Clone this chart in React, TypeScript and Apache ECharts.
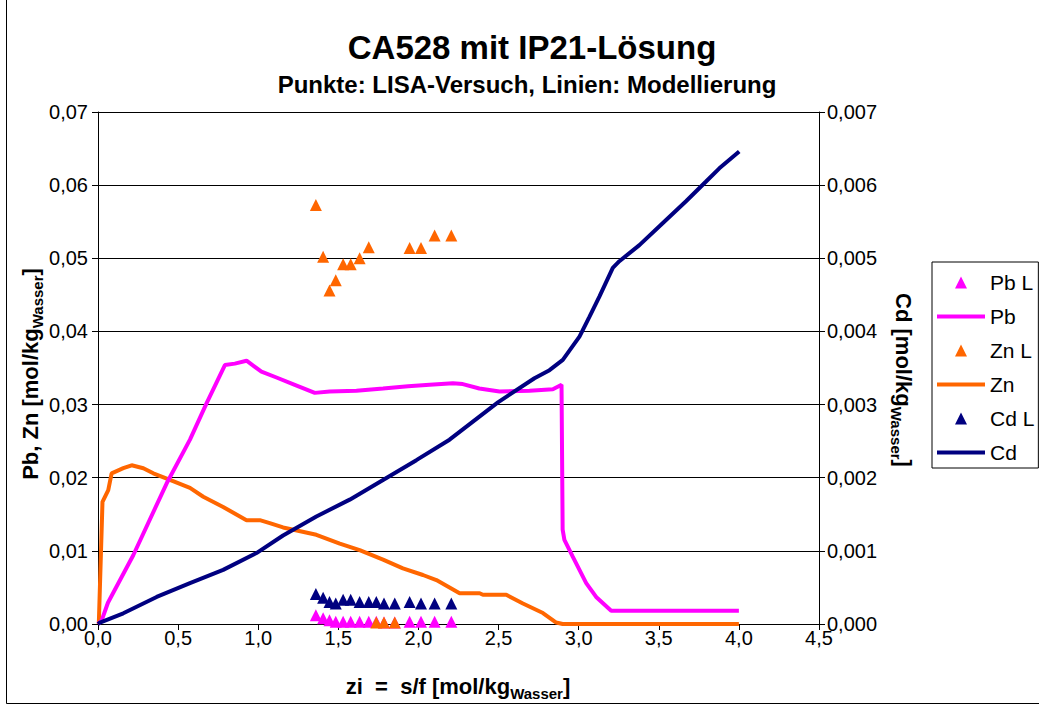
import { useEffect, useRef } from "react";
import * as echarts from "echarts";

const FONT = "'Liberation Sans', Arial, sans-serif";

// LISA experiment points (x shared)
const xLisa = [1.36, 1.405, 1.445, 1.484, 1.53, 1.577, 1.633, 1.69, 1.737, 1.785, 1.852, 1.945, 2.016, 2.101, 2.205];
const pbLisa = [0.0012, 0.0008, 0.0005, 0.0003, 0.0003, 0.0003, 0.0003, 0.0003, 0.0003, 0.0002, 0.0002, 0.0003, 0.0003, 0.0003, 0.0003];
const znLisa = [0.0573, 0.0502, 0.0456, 0.047, 0.0492, 0.0492, 0.05, 0.0515, 0.0002, 0.0002, 0.0002, 0.0514, 0.0514, 0.0531, 0.0531];
const cdLisa = [0.00041, 0.00036, 0.0003, 0.00028, 0.00033, 0.00033, 0.0003, 0.0003, 0.0003, 0.00028, 0.00028, 0.0003, 0.00028, 0.00028, 0.00028];

// Model lines [x, y]
const pbModel: [number, number][] = [
  [0, 0], [0.023, 0.0005], [0.062, 0.0029], [0.22, 0.0094], [0.428, 0.0192], [0.574, 0.0252],
  [0.678, 0.0302], [0.792, 0.0354], [0.854, 0.0356], [0.927, 0.036], [1.02, 0.0345], [1.114, 0.0337],
  [1.228, 0.0327], [1.353, 0.0316], [1.446, 0.0318], [1.613, 0.0319], [1.779, 0.0322], [1.935, 0.0325],
  [2.07, 0.0327], [2.215, 0.0329], [2.277, 0.0328], [2.38, 0.0322], [2.506, 0.0318], [2.693, 0.0319],
  [2.839, 0.0321], [2.893, 0.0327], [2.9, 0.0129], [2.911, 0.0115], [2.963, 0.0092], [3.047, 0.0056],
  [3.109, 0.0037], [3.203, 0.0018], [4.0, 0.0018],
];
const znModel: [number, number][] = [
  [0.005, 0], [0.028, 0.0167], [0.064, 0.0183], [0.085, 0.0206], [0.158, 0.0213], [0.21, 0.0217],
  [0.283, 0.0213], [0.345, 0.0206], [0.449, 0.0197], [0.574, 0.0186], [0.657, 0.0174], [0.781, 0.016],
  [0.927, 0.0142], [1.01, 0.0142], [1.072, 0.0138], [1.155, 0.0132], [1.363, 0.0122], [1.509, 0.011],
  [1.633, 0.0101], [1.779, 0.0088], [1.903, 0.0076], [2.028, 0.0067], [2.112, 0.006], [2.257, 0.0042],
  [2.382, 0.0042], [2.402, 0.004], [2.548, 0.004], [2.652, 0.0028], [2.777, 0.0015], [2.86, 0.0002],
  [2.9, 0], [4.0, 0],
];
const cdModel: [number, number][] = [
  [0, 0], [0.012, 0.00002], [0.158, 0.000146], [0.366, 0.00037], [0.574, 0.00056], [0.781, 0.00074],
  [0.989, 0.00097], [1.155, 0.00121], [1.363, 0.00147], [1.571, 0.0017], [1.779, 0.00197], [1.987, 0.00224],
  [2.194, 0.00252], [2.496, 0.00303], [2.724, 0.00336], [2.818, 0.00347], [2.901, 0.00361], [3.005, 0.00393],
  [3.067, 0.0042], [3.13, 0.00448], [3.213, 0.00487], [3.254, 0.00496], [3.379, 0.00518], [3.524, 0.00548],
  [3.67, 0.00578], [3.795, 0.00605], [3.878, 0.00623], [4.002, 0.00646],
];

const MAGENTA = "#FF00FF";
const ORANGE = "#FF6600";
const NAVY = "#000080";

const titleText = "CA528 mit IP21-Lösung";
const subtitleText = "Punkte: LISA-Versuch, Linien: Modellierung";

const TRI_ICON = "path://M5,0L10,10L0,10Z";
const LINE_ICON = "path://M0,0L48,0L48,4L0,4Z";

const richSub = {
  m: { fontSize: 22, fontWeight: "bold", fontFamily: FONT, fill: "#000", color: "#000" },
  s: { fontSize: 15, fontWeight: "bold", fontFamily: FONT, fill: "#000", color: "#000", padding: [14, 0, 0, 0], verticalAlign: "bottom" },
};

export default function App() {
  const ref = useRef<HTMLDivElement>(null);
  useEffect(() => {
    if (!ref.current) return;
    const chart = echarts.init(ref.current, null, { renderer: "svg" });
    const tickStyle = { fontSize: 20, fontFamily: FONT, color: "#000" };
    chart.setOption({
      animation: false,
      backgroundColor: "#fff",
      grid: { left: 98, right: 220, top: 112, bottom: 81, containLabel: false },
      legend: {
        orient: "vertical",
        left: 932,
        top: 262,
        padding: [10, 4, 5, 5],
        itemGap: 13,
        itemWidth: 48,
        itemHeight: 12,
        symbolKeepAspect: true,
        borderColor: "#000",
        borderWidth: 1,
        backgroundColor: "#fff",
        itemStyle: { opacity: 1 },
        textStyle: { fontSize: 21, fontFamily: FONT, color: "#000" },
        data: [
          { name: "Pb L", icon: TRI_ICON },
          { name: "Pb", icon: LINE_ICON },
          { name: "Zn L", icon: TRI_ICON },
          { name: "Zn", icon: LINE_ICON },
          { name: "Cd L", icon: TRI_ICON },
          { name: "Cd", icon: LINE_ICON },
        ],
      },
      xAxis: {
        type: "value",
        min: 0,
        max: 4.5,
        interval: 0.5,
        axisLine: { show: true, lineStyle: { color: "#000", width: 1 } },
        axisTick: { show: true, inside: false, length: 6, lineStyle: { color: "#000" } },
        axisLabel: { ...tickStyle, margin: 4, formatter: (v: number) => v.toFixed(1).replace(".", ",") },
        splitLine: { show: false },
      },
      yAxis: [
        {
          type: "value",
          min: 0,
          max: 0.07,
          interval: 0.01,
          axisLine: { show: true, lineStyle: { color: "#000", width: 1 } },
          axisTick: { show: true, inside: false, length: 6, lineStyle: { color: "#000" } },
          axisLabel: { ...tickStyle, margin: 10, formatter: (v: number) => v.toFixed(2).replace(".", ",") },
          splitLine: { show: true, lineStyle: { color: "#000", width: 1 } },
        },
        {
          type: "value",
          position: "right",
          min: 0,
          max: 0.007,
          interval: 0.001,
          axisLine: { show: true, lineStyle: { color: "#000", width: 1 } },
          axisTick: { show: true, inside: false, length: 6, lineStyle: { color: "#000" } },
          axisLabel: { ...tickStyle, margin: 8, formatter: (v: number) => v.toFixed(3).replace(".", ",") },
          splitLine: { show: false },
        },
      ],
      series: [
        {
          name: "Pb L", type: "scatter", yAxisIndex: 0, symbol: "triangle", symbolSize: 12, symbolKeepAspect: true, z: 5,
          itemStyle: { color: MAGENTA, opacity: 1 },
          data: xLisa.map((x, i) => [x, pbLisa[i]]),
        },
        {
          name: "Pb", type: "line", yAxisIndex: 0, symbol: "none", showSymbol: false, z: 3,
          itemStyle: { color: MAGENTA }, lineStyle: { color: MAGENTA, width: 4 },
          data: pbModel,
        },
        {
          name: "Zn L", type: "scatter", yAxisIndex: 0, symbol: "triangle", symbolSize: 12, symbolKeepAspect: true, z: 5,
          itemStyle: { color: ORANGE, opacity: 1 },
          data: xLisa.map((x, i) => [x, znLisa[i]]),
        },
        {
          name: "Zn", type: "line", yAxisIndex: 0, symbol: "none", showSymbol: false, z: 2,
          itemStyle: { color: ORANGE }, lineStyle: { color: ORANGE, width: 4 },
          data: znModel,
        },
        {
          name: "Cd L", type: "scatter", yAxisIndex: 1, symbol: "triangle", symbolSize: 12, symbolKeepAspect: true, z: 5,
          itemStyle: { color: NAVY, opacity: 1 },
          data: xLisa.map((x, i) => [x, cdLisa[i]]),
        },
        {
          name: "Cd", type: "line", yAxisIndex: 1, symbol: "none", showSymbol: false, z: 4,
          itemStyle: { color: NAVY }, lineStyle: { color: NAVY, width: 4 },
          data: cdModel,
        },
      ],
      graphic: [
        {
          type: "rect", z: -1, silent: true,
          shape: { x: 6.5, y: -10, width: 1050, height: 713.5 },
          style: { fill: "none", stroke: "#000", lineWidth: 1 },
        },
        {
          type: "text", x: 532, y: 47,
          style: { text: titleText, font: `bold 33px ${FONT}`, fill: "#000", align: "center", verticalAlign: "middle" },
        },
        {
          type: "text", x: 527, y: 84,
          style: { text: subtitleText, font: `bold 24px ${FONT}`, fill: "#000", align: "center", verticalAlign: "middle" },
        },
        {
          type: "text", x: 30, y: 374, rotation: Math.PI / 2,
          style: { text: "{m|Pb, Zn [mol/kg}{s|Wasser}{m|]}", rich: richSub, align: "center", verticalAlign: "middle" },
        },
        {
          type: "text", x: 903, y: 380, rotation: -Math.PI / 2,
          style: { text: "{m|Cd [mol/kg}{s|Wasser}{m|]}", rich: richSub, align: "center", verticalAlign: "middle" },
        },
        {
          type: "text", x: 458, y: 686,
          style: { text: "{m|zi  =  s/f [mol/kg}{s|Wasser}{m|]}", rich: richSub, align: "center", verticalAlign: "middle" },
        },
      ],
    });
    return () => chart.dispose();
  }, []);
  return <div ref={ref} style={{ position: "fixed", left: 0, top: 0, width: 1039, height: 705 }} />;
}
